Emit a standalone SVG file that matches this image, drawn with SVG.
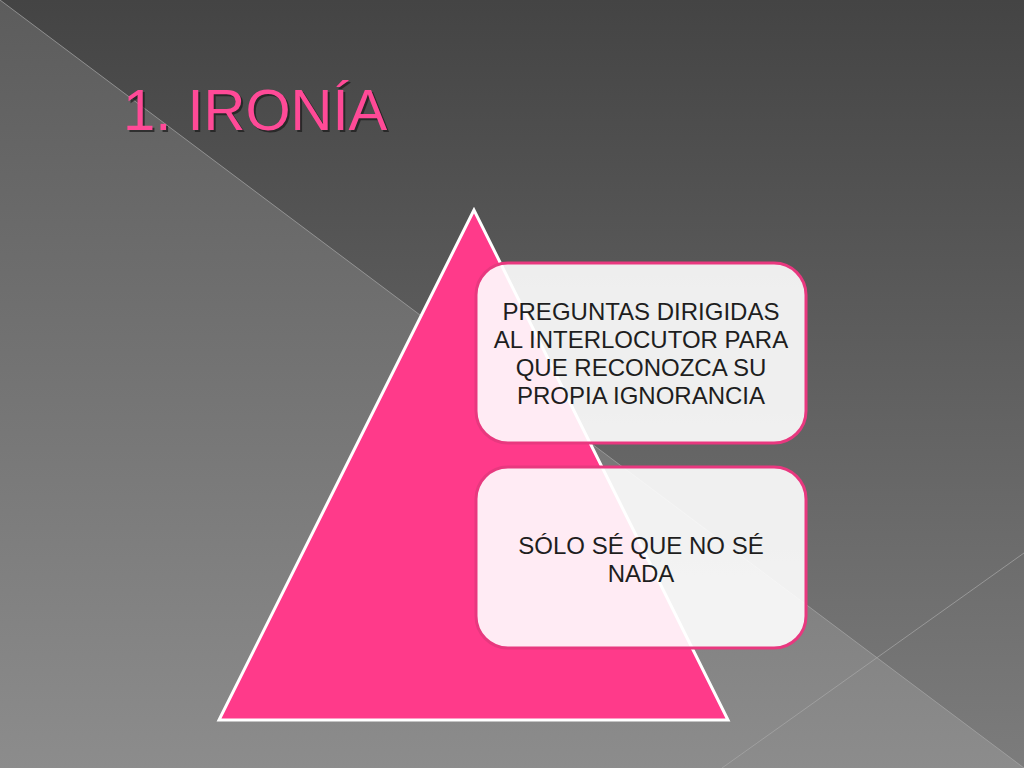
<svg xmlns="http://www.w3.org/2000/svg" width="1024" height="768" viewBox="0 0 1024 768">
<defs>
<linearGradient id="bg" x1="0" y1="0" x2="0" y2="1">
<stop offset="0" stop-color="#444444"/>
<stop offset="1" stop-color="#7c7c7c"/>
</linearGradient>
<linearGradient id="bg2" x1="0" y1="0" x2="0" y2="1">
<stop offset="0" stop-color="#5c5c5c"/>
<stop offset="1" stop-color="#8c8c8c"/>
</linearGradient>
<style>
.box{fill:#ffffff;fill-opacity:0.9;stroke:#e8387f;stroke-width:3}
.lbl{font-family:"Liberation Sans",Arial,sans-serif;font-size:24px;fill:#1e1e1e;text-anchor:middle}
.deco{stroke:#a8a8a8;stroke-opacity:0.7;stroke-width:1;fill:none}
</style>
</defs>
<rect width="1024" height="768" fill="url(#bg)"/>
<polygon points="0,0 1024,768 0,768" fill="url(#bg2)"/>
<line class="deco" x1="0" y1="0" x2="1024" y2="768"/>
<line class="deco" x1="1024" y1="553" x2="722" y2="768"/>
<g id="title">
<text x="125" y="132" font-family="'Liberation Sans',Arial,sans-serif" font-size="58" fill="#1a1a1a" fill-opacity="0.7">1. IRONÍA</text>
<text x="123" y="130" font-family="'Liberation Sans',Arial,sans-serif" font-size="58" fill="#ff4a97">1. IRONÍA</text>
</g>
<g id="pyramid">
<polygon points="474,210 219,720 728,720" fill="#ff3a8a" stroke="#ffffff" stroke-width="3" stroke-linejoin="miter"/>
</g>
<g id="node1">
<rect class="box" x="476" y="263" width="330" height="180" rx="32"/>
<text class="lbl" x="641" y="320">PREGUNTAS DIRIGIDAS</text>
<text class="lbl" x="641" y="348">AL INTERLOCUTOR PARA</text>
<text class="lbl" x="641" y="376">QUE RECONOZCA SU</text>
<text class="lbl" x="641" y="404">PROPIA IGNORANCIA</text>
</g>
<g id="node2">
<rect class="box" x="476" y="467" width="330" height="181" rx="32"/>
<text class="lbl" x="641" y="554">SÓLO SÉ QUE NO SÉ</text>
<text class="lbl" x="641" y="582">NADA</text>
</g>
<g id="connectors"></g>
</svg>
